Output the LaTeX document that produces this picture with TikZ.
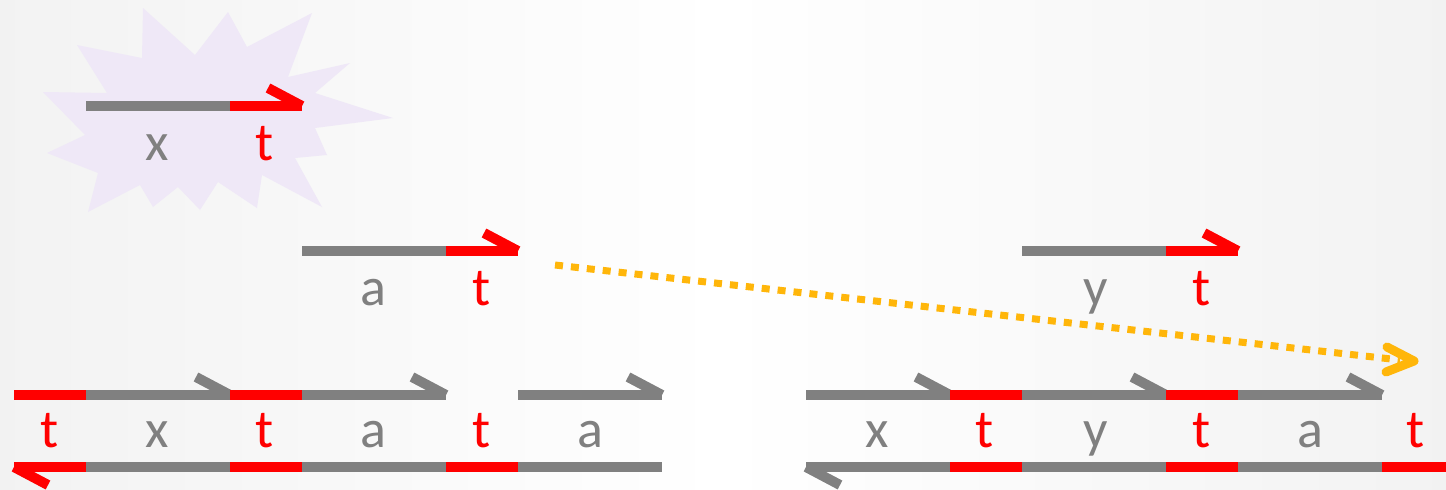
\documentclass[tikz,border=0pt]{standalone}
\usepackage{fontspec}
\setmainfont{Carlito}
\definecolor{strandgray}{HTML}{808080}
\definecolor{strandred}{HTML}{FF0000}
\definecolor{burst}{HTML}{EFE8F7}
\definecolor{dotorange}{HTML}{FFB60A}
\tikzset{
  gseg/.style={draw=strandgray, line width=10pt, line cap=butt},
  rseg/.style={draw=strandred, line width=10pt, line cap=butt},
  glab/.style={text=strandgray, font=\fontsize{54}{60}\selectfont, inner sep=0pt, anchor=base},
  rlab/.style={text=strandred, font=\fontsize{54}{60}\selectfont, inner sep=0pt, anchor=base},
}
\begin{document}
\begin{tikzpicture}[x=1pt,y=-1pt]
\useasboundingbox (0,0) rectangle (1446,490);
\shade[left color=black!5, right color=black!5, middle color=white] (0,0) rectangle (1446,490);
% starburst
\fill[burst] (143,8) -- (195,55) -- (228,12) -- (247,47) -- (312,13) -- (288,77) -- (350,63) -- (315,93) -- (393,118) -- (315,128) -- (327,155) -- (295,158) -- (322,207) -- (262,175) -- (257,208) -- (218,182) -- (200,210) -- (178,187) -- (153,207) -- (140,185) -- (88,212) -- (98,173) -- (47,153) -- (85,135) -- (43,92) -- (107,93) -- (77,45) -- (142,58) -- cycle;
% starburst strand
\draw[gseg] (86,106) -- (230,106);
\draw[rseg] (230,106) -- (302,106);
\draw[rseg] (302,106) -- (268,88);
\node[glab] (bx) at (157,160) {x};
\node[rlab] (bt) at (265,160) {t};
% middle strand a t
\draw[gseg] (302,251) -- (446,251);
\draw[rseg] (446,251) -- (518,251);
\draw[rseg] (518,251) -- (484,233);
\node[glab] (ma) at (373,305) {a};
\node[rlab] (mt1) at (482,305) {t};
% middle strand y t
\draw[gseg] (1022,251) -- (1166,251);
\draw[rseg] (1166,251) -- (1238,251);
\draw[rseg] (1238,251) -- (1204,233);
\node[glab] (my) at (1096,305) {y};
\node[rlab] (mt2) at (1202,305) {t};
% dotted arrow
\coordinate (ds) at (555,265);
\coordinate (de) at (1400,360);
\draw[dotorange, line width=7pt, dash pattern=on 8pt off 8pt] (ds) -- (de);
\draw[dotorange, line width=9pt, line cap=round, line join=round] (1387,347) -- (1414,361) -- (1386,372);
% bottom-left top strand
\draw[rseg] (14,395) -- (86,395);
\draw[gseg] (86,395) -- (230,395);
\draw[gseg] (230,395) -- (196,377);
\draw[rseg] (230,395) -- (302,395);
\draw[gseg] (302,395) -- (446,395);
\draw[gseg] (446,395) -- (412,377);
\draw[gseg] (518,395) -- (662,395);
\draw[gseg] (662,395) -- (628,377);
% bottom-left bottom strand
\draw[rseg] (14,467) -- (86,467);
\draw[rseg] (14,467) -- (48,485);
\draw[gseg] (86,467) -- (230,467);
\draw[rseg] (230,467) -- (302,467);
\draw[gseg] (302,467) -- (446,467);
\draw[rseg] (446,467) -- (518,467);
\draw[gseg] (518,467) -- (662,467);
% bottom-left labels
\node[rlab] (l1) at (50,447) {t};
\node[glab] (l2) at (157,447) {x};
\node[rlab] (l3) at (265,447) {t};
\node[glab] (l4) at (373,447) {a};
\node[rlab] (l5) at (482,447) {t};
\node[glab] (l6) at (590,447) {a};
% bottom-right top strand
\draw[gseg] (806,395) -- (950,395);
\draw[gseg] (950,395) -- (916,377);
\draw[rseg] (950,395) -- (1022,395);
\draw[gseg] (1022,395) -- (1166,395);
\draw[gseg] (1166,395) -- (1132,377);
\draw[rseg] (1166,395) -- (1238,395);
\draw[gseg] (1238,395) -- (1382,395);
\draw[gseg] (1382,395) -- (1348,377);
% bottom-right bottom strand
\draw[gseg] (806,467) -- (950,467);
\draw[gseg] (806,467) -- (840,485);
\draw[rseg] (950,467) -- (1022,467);
\draw[gseg] (1022,467) -- (1166,467);
\draw[rseg] (1166,467) -- (1238,467);
\draw[gseg] (1238,467) -- (1382,467);
\draw[rseg] (1382,467) -- (1446,467);
% bottom-right labels
\node[glab] (r1) at (877,447) {x};
\node[rlab] (r2) at (985,447) {t};
\node[glab] (r3) at (1096,447) {y};
\node[rlab] (r4) at (1202,447) {t};
\node[glab] (r5) at (1310,447) {a};
\node[rlab] (r6) at (1416,447) {t};
\end{tikzpicture}
\end{document}
